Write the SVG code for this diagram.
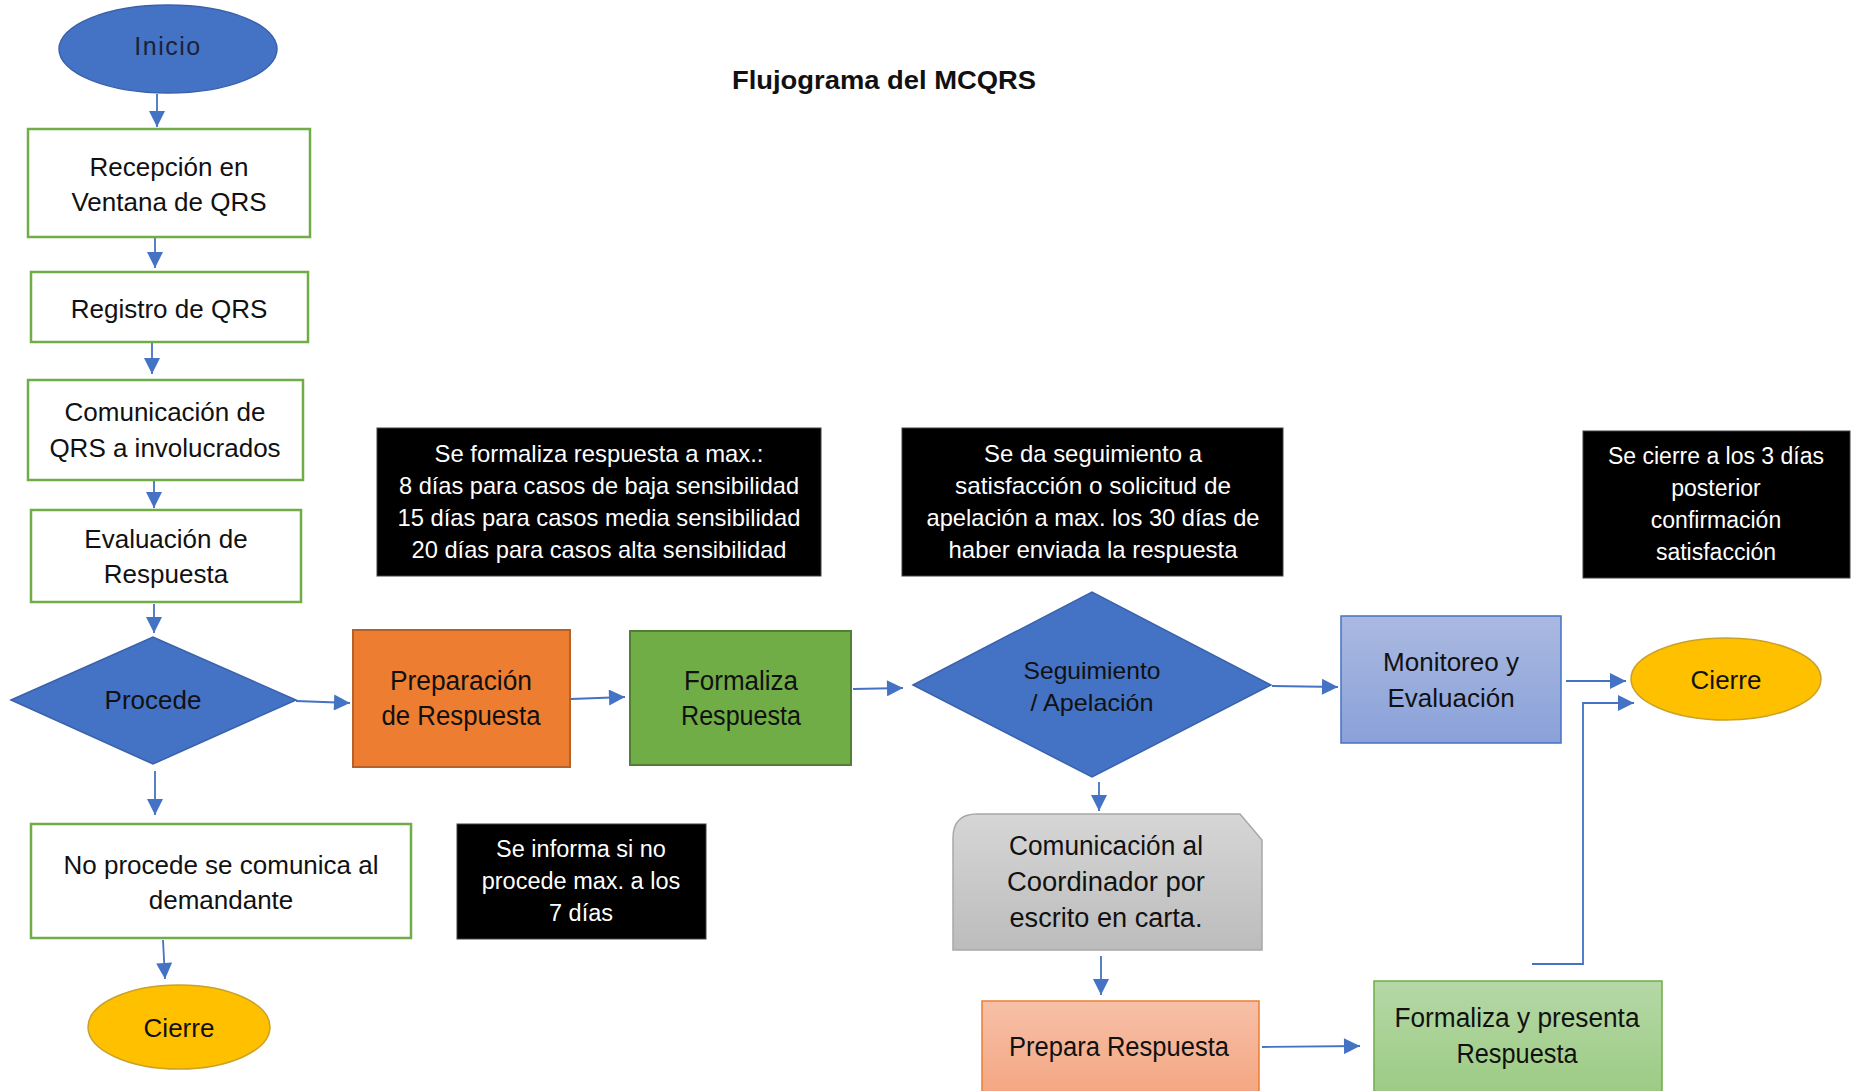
<svg xmlns="http://www.w3.org/2000/svg" width="1857" height="1091" viewBox="0 0 1857 1091">
<defs>
<style>
text{font-family:"Liberation Sans",Arial,sans-serif;fill:#111;text-anchor:middle}
.t26{font-size:26px}
.t27{font-size:27px}
.t24{font-size:24px}
.w{fill:#fff}
.gbox{fill:#fff;stroke:#70AD47;stroke-width:2.5}
.blk{fill:#000;stroke:#404040;stroke-width:1}
.conn path{fill:none;stroke:#4472C4;stroke-width:1.8;marker-end:url(#ah)}
</style>
<marker id="ah" viewBox="0 0 10 10" refX="10" refY="5" markerWidth="17" markerHeight="16" markerUnits="userSpaceOnUse" orient="auto">
<path d="M0,0 L10,5 L0,10 Z" fill="#4472C4"/>
</marker>
<linearGradient id="gBlue" x1="0" y1="0" x2="0" y2="1"><stop offset="0" stop-color="#AAB9E1"/><stop offset="1" stop-color="#8AA1D8"/></linearGradient>
<linearGradient id="gGray" x1="0" y1="0" x2="0" y2="1"><stop offset="0" stop-color="#D6D6D6"/><stop offset="1" stop-color="#BCBCBC"/></linearGradient>
<linearGradient id="gOr" x1="0" y1="0" x2="0" y2="1"><stop offset="0" stop-color="#F6C0A8"/><stop offset="1" stop-color="#F4A47E"/></linearGradient>
<linearGradient id="gGr" x1="0" y1="0" x2="0" y2="1"><stop offset="0" stop-color="#B5D8A6"/><stop offset="1" stop-color="#9BCA82"/></linearGradient>
</defs>
<rect x="0" y="0" width="1857" height="1091" fill="#fff"/>

<text x="884" y="89" style="font-size:25px;font-weight:bold" textLength="304" lengthAdjust="spacingAndGlyphs">Flujograma  del MCQRS</text>

<g class="conn">
<path d="M157,94 L157,127"/>
<path d="M155,238 L155,268"/>
<path d="M152,343 L152,374"/>
<path d="M154,481 L154,508"/>
<path d="M154,604 L154,633"/>
<path d="M155,771 L155,815"/>
<path d="M163,940 L165,979"/>
<path d="M296,701 L350,703"/>
<path d="M571,699 L625,697"/>
<path d="M853,689 L903,688"/>
<path d="M1272,686 L1338,687"/>
<path d="M1566,681 L1626,681"/>
<path d="M1099,782 L1099,811"/>
<path d="M1101,956 L1101,995"/>
<path d="M1262,1047 L1360,1046"/>
<path d="M1532,964 L1583,964 L1583,703 L1634,703"/>
</g>

<g id="inicio">
<ellipse cx="168" cy="49" rx="109" ry="44" fill="#4472C4" stroke="#3A62AC" stroke-width="1.5"/>
<text x="168" y="55" style="font-size:25px;letter-spacing:1.5px;fill:#1a2238">Inicio</text>
</g>
<g id="recepcion">
<rect x="28" y="129" width="282" height="108" class="gbox"/>
<text x="169" y="176" class="t26">Recepción en</text>
<text x="169" y="211" class="t26">Ventana de QRS</text>
</g>
<g id="registro">
<rect x="31" y="272" width="277" height="70" class="gbox"/>
<text x="169" y="318" class="t26">Registro de QRS</text>
</g>
<g id="comunicacion">
<rect x="28" y="380" width="275" height="100" class="gbox"/>
<text x="165" y="421" class="t26">Comunicación de</text>
<text x="165" y="457" class="t26">QRS a involucrados</text>
</g>
<g id="evaluacion">
<rect x="31" y="510" width="270" height="92" class="gbox"/>
<text x="166" y="548" class="t26">Evaluación de</text>
<text x="166" y="583" class="t26">Respuesta</text>
</g>
<g id="procede">
<polygon points="11,700 153,637 296,700 153,764" fill="#4472C4" stroke="#3A62AC" stroke-width="1.5"/>
<text x="153" y="709" class="t26">Procede</text>
</g>
<g id="noprocede">
<rect x="31" y="824" width="380" height="114" class="gbox"/>
<text x="221" y="874" class="t26">No procede se comunica al</text>
<text x="221" y="909" class="t26">demandante</text>
</g>
<g id="cierre1">
<ellipse cx="179" cy="1027" rx="91" ry="42" fill="#FFC000" stroke="#C9A227" stroke-width="1.5"/>
<text x="179" y="1037" class="t26">Cierre</text>
</g>
<g id="nota-formaliza">
<rect x="377" y="428" width="444" height="148" class="blk"/>
<text x="599" y="462" class="t24 w" textLength="329" lengthAdjust="spacingAndGlyphs">Se formaliza respuesta a max.:</text>
<text x="599" y="494" class="t24 w" textLength="400" lengthAdjust="spacingAndGlyphs">8 días para casos de baja sensibilidad</text>
<text x="599" y="526" class="t24 w" textLength="403" lengthAdjust="spacingAndGlyphs">15 días para casos media sensibilidad</text>
<text x="599" y="558" class="t24 w" textLength="375" lengthAdjust="spacingAndGlyphs">20 días para casos alta sensibilidad</text>
</g>
<g id="nota-seguimiento">
<rect x="902" y="428" width="381" height="148" class="blk"/>
<text x="1093" y="462" class="t24 w" textLength="218" lengthAdjust="spacingAndGlyphs">Se da seguimiento a</text>
<text x="1093" y="494" class="t24 w" textLength="276" lengthAdjust="spacingAndGlyphs">satisfacción o solicitud de</text>
<text x="1093" y="526" class="t24 w" textLength="333" lengthAdjust="spacingAndGlyphs">apelación a max. los 30 días de</text>
<text x="1093" y="558" class="t24 w" textLength="289" lengthAdjust="spacingAndGlyphs">haber enviada la respuesta</text>
</g>
<g id="nota-cierre">
<rect x="1583" y="431" width="267" height="147" class="blk"/>
<text x="1716" y="464" class="w" style="font-size:23px">Se cierre a los 3 días</text>
<text x="1716" y="496" class="w" style="font-size:23px">posterior</text>
<text x="1716" y="528" class="w" style="font-size:23px">confirmación</text>
<text x="1716" y="560" class="w" style="font-size:23px">satisfacción</text>
</g>
<g id="nota-informa">
<rect x="457" y="824" width="249" height="115" class="blk"/>
<text x="581" y="857" class="w" style="font-size:23.5px">Se informa si no</text>
<text x="581" y="889" class="w" style="font-size:23.5px">procede max. a los</text>
<text x="581" y="921" class="w" style="font-size:23.5px">7 días</text>
</g>
<g id="preparacion">
<rect x="353" y="630" width="217" height="137" fill="#ED7D31" stroke="#B4612A" stroke-width="2"/>
<text x="461" y="690" class="t27" textLength="142" lengthAdjust="spacingAndGlyphs">Preparación</text>
<text x="461" y="725" class="t27" textLength="159" lengthAdjust="spacingAndGlyphs">de Respuesta</text>
</g>
<g id="formaliza">
<rect x="630" y="631" width="221" height="134" fill="#70AD47" stroke="#507E32" stroke-width="2"/>
<text x="741" y="690" class="t27" textLength="114" lengthAdjust="spacingAndGlyphs">Formaliza</text>
<text x="741" y="725" class="t27" textLength="120" lengthAdjust="spacingAndGlyphs">Respuesta</text>
</g>
<g id="seguimiento">
<polygon points="913,685 1092,592 1271,685 1092,777" fill="#4472C4" stroke="#3A62AC" stroke-width="1.5"/>
<text x="1092" y="679" class="t24" textLength="137" lengthAdjust="spacingAndGlyphs">Seguimiento</text>
<text x="1092" y="711" class="t24" textLength="123" lengthAdjust="spacingAndGlyphs">/ Apelación</text>
</g>
<g id="monitoreo">
<rect x="1341" y="616" width="220" height="127" fill="url(#gBlue)" stroke="#4472C4" stroke-width="1.5"/>
<text x="1451" y="671" class="t26">Monitoreo y</text>
<text x="1451" y="707" class="t26">Evaluación</text>
</g>
<g id="cierre2">
<ellipse cx="1726" cy="679" rx="95" ry="41" fill="#FFC000" stroke="#C9A227" stroke-width="1.5"/>
<text x="1726" y="689" class="t26">Cierre</text>
</g>
<g id="comunicacion-coordinador">
<path d="M953,950 L953,838 Q953,814 977,814 L1240,814 L1262,840 L1262,950 Z" fill="url(#gGray)" stroke="#A8A8A8" stroke-width="1.5"/>
<text x="1106" y="855" class="t27" textLength="194" lengthAdjust="spacingAndGlyphs">Comunicación al</text>
<text x="1106" y="891" class="t27" textLength="198" lengthAdjust="spacingAndGlyphs">Coordinador por</text>
<text x="1106" y="927" class="t27" textLength="193" lengthAdjust="spacingAndGlyphs">escrito en carta.</text>
</g>
<g id="prepara">
<rect x="982" y="1001" width="277" height="100" fill="url(#gOr)" stroke="#ED7D31" stroke-width="1.5"/>
<text x="1119" y="1056" class="t27" textLength="220" lengthAdjust="spacingAndGlyphs">Prepara Respuesta</text>
</g>
<g id="formaliza-presenta">
<rect x="1374" y="981" width="288" height="120" fill="url(#gGr)" stroke="#70AD47" stroke-width="1.5"/>
<text x="1517" y="1027" class="t27" textLength="245" lengthAdjust="spacingAndGlyphs">Formaliza y presenta</text>
<text x="1517" y="1063" class="t27" textLength="121" lengthAdjust="spacingAndGlyphs">Respuesta</text>
</g>
</svg>
